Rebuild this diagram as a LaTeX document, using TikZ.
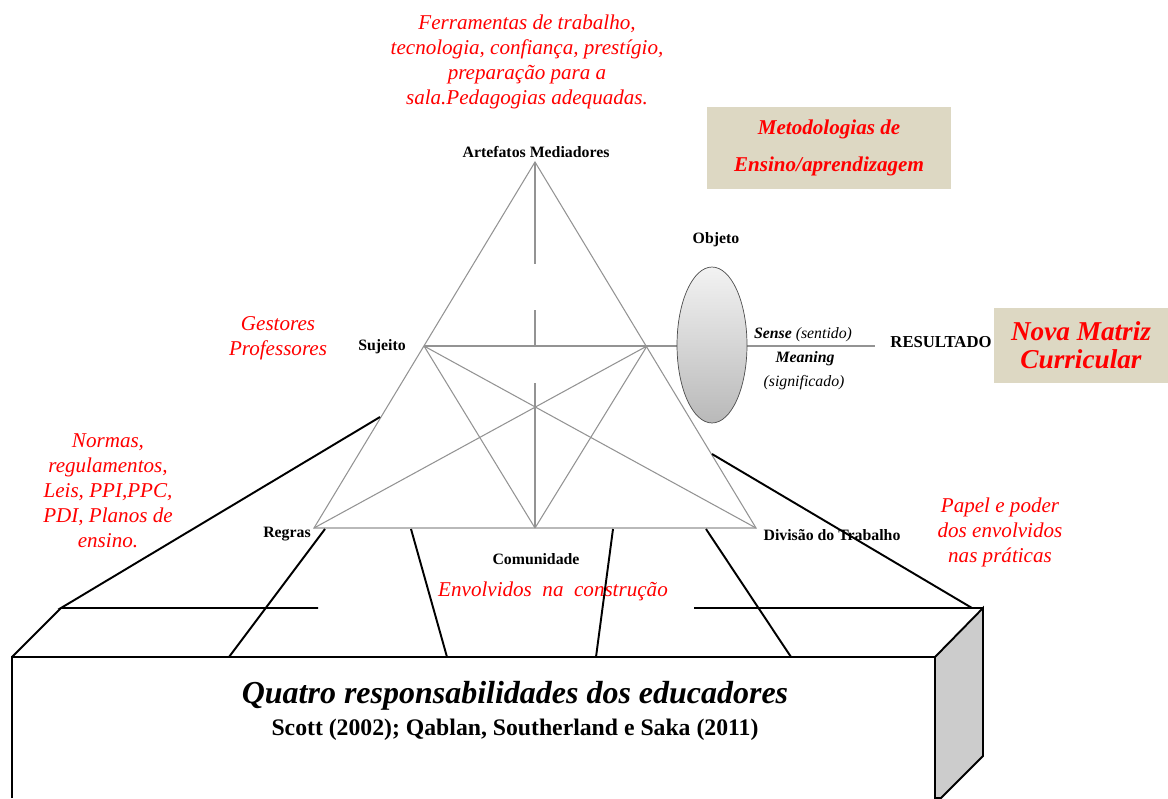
\documentclass[tikz,border=0pt]{standalone}
\usepackage{fontspec}
\setmainfont{Liberation Serif}
\usetikzlibrary{shapes.geometric}
\definecolor{bege}{RGB}{221,216,195}
\definecolor{ladocinza}{RGB}{204,204,204}

\begin{document}
\begin{tikzpicture}[x=0.02cm,y=-0.02cm,
    tri/.style={draw=gray!85,line width=0.6pt},
    contorno/.style={draw=black,line width=1.1pt},
    rotulo/.style={font=\fontsize{9}{10}\selectfont\bfseries,inner sep=1pt},
    vermelho/.style={text=red,font=\fontsize{12}{14.2}\selectfont\itshape,align=center,inner sep=0pt},
    caixa/.style={fill=bege,text=red,align=center}]
  \useasboundingbox (0,0) rectangle (1168,798);

  \coordinate (art) at (535,162);
  \coordinate (suj) at (424,346);
  \coordinate (dir) at (647,346);
  \coordinate (reg) at (314,528);
  \coordinate (div) at (756,528);
  \coordinate (com) at (535,528);
  \coordinate (fim) at (875,346);

  \draw[tri] (art) -- (reg) -- (div) -- cycle;
  \draw[tri] (art) -- (535,264) (535,310) -- (535,345) (535,383) -- (com);
  \draw[tri] (suj) -- (dir) -- (fim);
  \draw[tri] (suj) -- (div) (suj) -- (com);
  \draw[tri] (dir) -- (reg) (dir) -- (com);

  \node[ellipse,draw=gray!60!black,minimum width=1.4cm,minimum height=3.12cm,
    top color=gray!10,bottom color=gray!55,inner sep=0pt] (objeto) at (712,345) {};

  \node[rotulo] (nart) at (536,152) {Artefatos Mediadores};
  \node[rotulo] (nsuj) at (382,347) {Sujeito};
  \node[rotulo] (nreg) at (287,534) {Regras};
  \node[rotulo] (ncom) at (536,559) {Comunidade};
  \node[rotulo] (ndiv) at (832,535) {Divisão do Trabalho};
  \node[rotulo] (nobj) at (716,240) {Objeto};
  \node[rotulo,font=\fontsize{9.5}{10}\selectfont\bfseries] (nres) at (941,342) {RESULTADO};
  \node[font=\fontsize{9}{10}\selectfont,inner sep=1pt] (nsense) at (803,335) {\textbf{\textit{Sense}} \textit{(sentido)}};
  \node[font=\fontsize{9}{10}\selectfont\bfseries\itshape,inner sep=1pt] (nmean) at (805,359) {Meaning};
  \node[font=\fontsize{9}{10}\selectfont\itshape,inner sep=1pt] (nsig) at (804,383) {(significado)};

  \node[caixa,minimum width=4.88cm,minimum height=1.64cm,
    font=\fontsize{12}{21}\selectfont\bfseries\itshape] (metod) at (829,148)
    {Metodologias de\\Ensino/aprendizagem};
  \node[caixa,minimum width=3.5cm,minimum height=1.5cm,
    font=\fontsize{15.5}{16}\selectfont\bfseries\itshape] (matriz) at (1081,345)
    {Nova Matriz\\Curricular};

  \node[vermelho] (ferr) at (527,62) {Ferramentas de trabalho,\\tecnologia, confiança, prestígio,\\preparação para a\\sala.Pedagogias adequadas.};
  \node[vermelho] (gest) at (278,338) {Gestores\\Professores};
  \node[vermelho] (norm) at (108,491) {Normas,\\regulamentos,\\Leis, PPI,PPC,\\PDI, Planos de\\ensino.};
  \node[vermelho] (papel) at (1000,532) {Papel e poder\\dos envolvidos\\nas práticas};
  \node[vermelho] (envol) at (553,591) {Envolvidos\ \ na\ \ construção};

  \coordinate (esqa) at (380,417);
  \coordinate (esqb) at (61,608);
  \coordinate (esqc) at (318,608);
  \coordinate (dira) at (712,454);
  \coordinate (dirb) at (972,608);
  \coordinate (dirc) at (694,608);
  \coordinate (fre1) at (12,657);
  \coordinate (fre2) at (935,657);
  \coordinate (lat1) at (983,608);
  \coordinate (lat2) at (983,756);
  \coordinate (lat3) at (941,798);

  \filldraw[contorno,fill=ladocinza] (fre2) -- (lat1) -- (lat2) -- (lat3) -- (935,798) -- cycle;
  \draw[contorno] (12,798) -- (fre1) -- (fre2);
  \draw[contorno] (esqa) -- (esqb) -- (esqc);
  \draw[contorno] (esqb) -- (fre1);
  \draw[contorno] (dira) -- (dirb);
  \draw[contorno] (dirc) -- (lat1);
  \draw[contorno] (325,529) -- (229,657);
  \draw[contorno] (411,529) -- (447,657);
  \draw[contorno] (613,529) -- (596,657);
  \draw[contorno] (706,529) -- (791,657);

  \node[font=\fontsize{18.2}{20}\selectfont\bfseries\itshape] (quatro) at (515,696) {Quatro responsabilidades dos educadores};
  \node[font=\fontsize{13.5}{15}\selectfont\bfseries] (scott) at (515,730) {Scott (2002); Qablan, Southerland e Saka (2011)};
\end{tikzpicture}
\end{document}
